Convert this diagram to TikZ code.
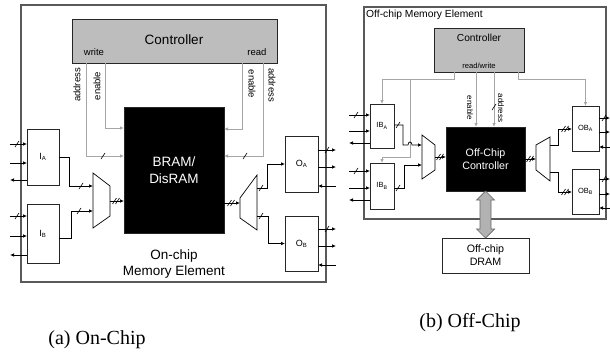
\documentclass[tikz,border=0pt]{standalone}
\usepackage{fontspec}
\setmainfont{Liberation Serif}
\newfontfamily\arial{Liberation Sans}
\usetikzlibrary{arrows.meta,calc}
\newcommand\fs[2]{\fontsize{#1}{#2}\selectfont}
\newcommand\wsl[1]{\draw[line width=0.6pt] ($(#1)+(-2,3)$) -- ($(#1)+(2,-3)$);}
\newcommand\wdsl[1]{\draw[line width=0.6pt] ($(#1)+(-3.5,3)$) -- ($(#1)+(0.5,-3)$) ($(#1)+(-0.5,3)$) -- ($(#1)+(3.5,-3)$);}
\begin{document}
\begin{tikzpicture}[x=1pt,y=-1pt,
  blk/.style={draw=black!85, line width=0.7pt, anchor=north west, inner sep=0pt, outer sep=0pt},
  outer/.style={draw=black!65, line width=1.1pt, anchor=north west, inner sep=0pt, outer sep=0pt},
  ctl/.style={blk, fill=black!26},
  ram/.style={blk, fill=black, text=white, align=center},
  wire/.style={line width=0.7pt, -{Latex[length=4pt,width=3.5pt]}},
  ln/.style={line width=0.7pt},
  gw/.style={draw=black!35, line width=0.8pt, -{Latex[length=4pt,width=3.5pt]}},
  lbl/.style={inner sep=0pt, font=\arial\fs{9.5}{11}},
  slbl/.style={inner sep=0pt, font=\arial\fs{8}{9}},
  captxt/.style={inner sep=0pt, font=\fs{20}{24}},
]
\useasboundingbox (0,0) rectangle (610,356);
% ================= (a) =================
\node[outer, minimum width=305pt, minimum height=277pt] (Aout) at (21,5) {};
\node[ctl, minimum width=205pt, minimum height=44pt] (Actl) at (72,19) {};
\node[inner sep=0pt, font=\arial\fs{13.5}{16}] (Actlt) at (174,40) {Controller};
\node[lbl] (Aw) at (94,52) {write};
\node[lbl] (Ar) at (257,52) {read};
\node[ram, minimum width=100pt, minimum height=126pt, font=\arial\fs{13.5}{17}] (Aram) at (124,107) {BRAM/\\DisRAM};
\node[blk, minimum width=32pt, minimum height=56pt, font=\arial\fs{9}{10}] (IA) at (27,129) {I\textsubscript{A}};
\node[blk, minimum width=32pt, minimum height=59pt, font=\arial\fs{9}{10}] (IB) at (27,204) {I\textsubscript{B}};
\node[blk, minimum width=33pt, minimum height=56pt, font=\arial\fs{9}{10}] (OA) at (285,136) {O\textsubscript{A}};
\node[blk, minimum width=33pt, minimum height=55pt, font=\arial\fs{9}{10}] (OB) at (285,216) {O\textsubscript{B}};
\node[inner sep=0pt, align=center, font=\arial\fs{13.5}{15.5}] (Alab) at (174,264) {On-chip\\Memory Element};
% control lines
\draw[gw] (Actl.south -| 86,0) -- (86,156) -- (Aram.west |- 0,156);
\wsl{103,156}
\draw[gw] (Actl.south -| 105,0) -- (105,128) -- (Aram.west |- 0,128);
\draw[gw] (Actl.south -| 242,0) -- (242,129) -- (Aram.east |- 0,129);
\draw[gw] (Actl.south -| 263,0) -- (263,156) -- (Aram.east |- 0,156);
\wsl{245,156}
\node[lbl, rotate=90] at (77,85) {address};
\node[lbl, rotate=90] at (97,86) {enable};
\node[lbl, rotate=-90] at (252,84) {enable};
\node[lbl, rotate=-90] at (272,85) {address};
% input muxes
\draw[ln] (93,173) -- (110,186) -- (110,216) -- (93,228) -- cycle;
\coordinate (MA1) at (93,186);
\coordinate (MA2) at (93,211);
\coordinate (MAo) at (110,201);
\draw[wire] (IA.east) -- ++(10,0) |- (MA1);
\wsl{81,186}
\draw[wire] ([yshift=-4.5pt]IB.east) -- ++(12,0) |- (MA2);
\wsl{79,211}
\draw[wire] (MAo) -- (Aram.west |- MAo);
\wdsl{116,201}
% output mux
\draw[ln] (240,198) -- (257,175) -- (257,230) -- (240,218) -- cycle;
\coordinate (MBi) at (240,203);
\draw[wire] (Aram.east |- MBi) -- (MBi);
\wdsl{231,203}
\draw[wire] (257,188) -- (267,188) |- (OA.west);
\wsl{261,188}
\draw[wire] (257,216) -- (268,216) |- (OB.west);
\wsl{261,216}
% pins
\foreach \y in {144,163} {\draw[wire] (10,\y) -- (IA.west |- 0,\y);}
\wsl{17,144}
\draw[wire] (IA.west |- 0,180) -- (10,180);
\foreach \y in {216,236} {\draw[wire] (10,\y) -- (IB.west |- 0,\y);}
\wsl{17,216}
\draw[wire] (IB.west |- 0,255) -- (10,255);
\foreach \y in {150,167} {\draw[wire] (OA.east |- 0,\y) -- (336,\y);}
\wsl{327,150}
\draw[wire] (336,186) -- (OA.east |- 0,186);
\foreach \y in {229,246} {\draw[wire] (OB.east |- 0,\y) -- (336,\y);}
\wsl{327,229}
\draw[wire] (336,265) -- (OB.east |- 0,265);
% ================= (b) =================
\node[outer, minimum width=242pt, minimum height=212pt] (Bout) at (364,7) {};
\node[font=\arial\fs{10.3}{12}, anchor=west, inner sep=0pt] (Btit) at (366,15) {Off-chip Memory Element};
\node[ctl, minimum width=90pt, minimum height=44pt] (Bctl) at (434,28) {};
\node[inner sep=0pt, font=\arial\fs{10.2}{12}] (Bctlt) at (479,38) {Controller};
\node[inner sep=0pt, font=\arial\fs{7.6}{9}] (Brw) at (479,66) {read/write};
\node[ram, minimum width=79pt, minimum height=64pt, font=\arial\fs{10.7}{12.5}] (Bk) at (446,127) {Off-Chip\\Controller};
\node[blk, minimum width=24pt, minimum height=44pt, font=\arial\fs{7.5}{9}] (IBA) at (370,104) {IB\textsubscript{A}};
\node[blk, minimum width=24pt, minimum height=46pt, font=\arial\fs{7.5}{9}] (IBB) at (370,163) {IB\textsubscript{B}};
\node[blk, minimum width=27pt, minimum height=45pt, font=\arial\fs{7.5}{9}] (OBA) at (572,106) {OB\textsubscript{A}};
\node[blk, minimum width=27pt, minimum height=45pt, font=\arial\fs{7.5}{9}] (OBB) at (572,169) {OB\textsubscript{B}};
\node[blk, minimum width=87pt, minimum height=35pt, align=center, font=\arial\fs{10.7}{13}] (DR) at (442,238) {Off-chip\\DRAM};
% control lines
\draw[gw] (Bctl.south -| 454,0) -- (454,79) -| (IBA.north);
\draw[gw] (410,79) -- (410,157) -| (IBB.north);
\draw[gw] (Bctl.south -| 518,0) -- (518,79) -| (OBA.north);
\draw[gw] (Bctl.south -| 476,0) -- (Bk.north -| 476,0);
\draw[gw] (Bctl.south -| 494,0) -- (Bk.north -| 494,0);
\wsl{494,107}
\node[slbl, rotate=-90] at (470,108) {enable};
\node[slbl, rotate=-90] at (501,108) {address};
% input mux
\draw[ln] (422,135) -- (435,145) -- (435,170) -- (422,179) -- cycle;
\coordinate (MC1) at (422,145);
\coordinate (MC2) at (422,165);
\coordinate (MCo) at (435,157);
\draw[wire] (IBA.east |- 0,125) -- (403,125) -- (403,145) -- (408,145) .. controls (408,141) and (412,141) .. (412,145) -- (MC1);
\wsl{398,125}
\draw[wire] (IBB.east |- 0,188) -- (404,188) |- (MC2);
\wsl{398,188}
\draw[wire] (MCo) -- (Bk.west |- MCo);
\wdsl{440,157}
% output mux
\draw[ln] (536,145) -- (550,137) -- (550,181) -- (536,170) -- cycle;
\coordinate (MDi) at (536,159);
\draw[wire] (Bk.east |- MDi) -- (MDi);
\wdsl{530,159}
\draw[wire] (550,145) -- (558,145) |- (OBA.west |- 0,129);
\wdsl{565,129}
\draw[wire] (550,172) -- (558,172) |- (OBB.west |- 0,192);
\wdsl{565,192}
% pins
\foreach \y in {115,131} {\draw[wire] (349,\y) -- (IBA.west |- 0,\y);}
\wsl{356,115}
\draw[wire] (IBA.west |- 0,143) -- (349,143);
\foreach \y in {171,188} {\draw[wire] (349,\y) -- (IBB.west |- 0,\y);}
\wsl{356,171}
\draw[wire] (IBB.west |- 0,200) -- (349,200);
\foreach \y in {118,132} {\draw[wire] (OBA.east |- 0,\y) -- (610,\y);}
\wsl{604,118}
\draw[wire] (610,147) -- (OBA.east |- 0,147);
\foreach \y in {179,194} {\draw[wire] (OBB.east |- 0,\y) -- (610,\y);}
\wsl{604,179}
\draw[wire] (610,208) -- (OBB.east |- 0,208);
% DRAM double arrow
\draw[draw=black!60, fill=black!30, line width=0.7pt] (Bk.south) -- ++(9,9) -- ++(-3.5,0) -- ($(DR.north)+(5.5,-9)$) -- ++(3.5,0) -- (DR.north) -- ++(-9,-9) -- ++(3.5,0) -- ($(Bk.south)+(-5.5,9)$) -- ++(-3.5,0) -- cycle;
% captions
\node[captxt] (capa) at (97,340) {(a) On-Chip};
\node[captxt] (capb) at (470,323) {(b) Off-Chip};
\end{tikzpicture}
\end{document}
